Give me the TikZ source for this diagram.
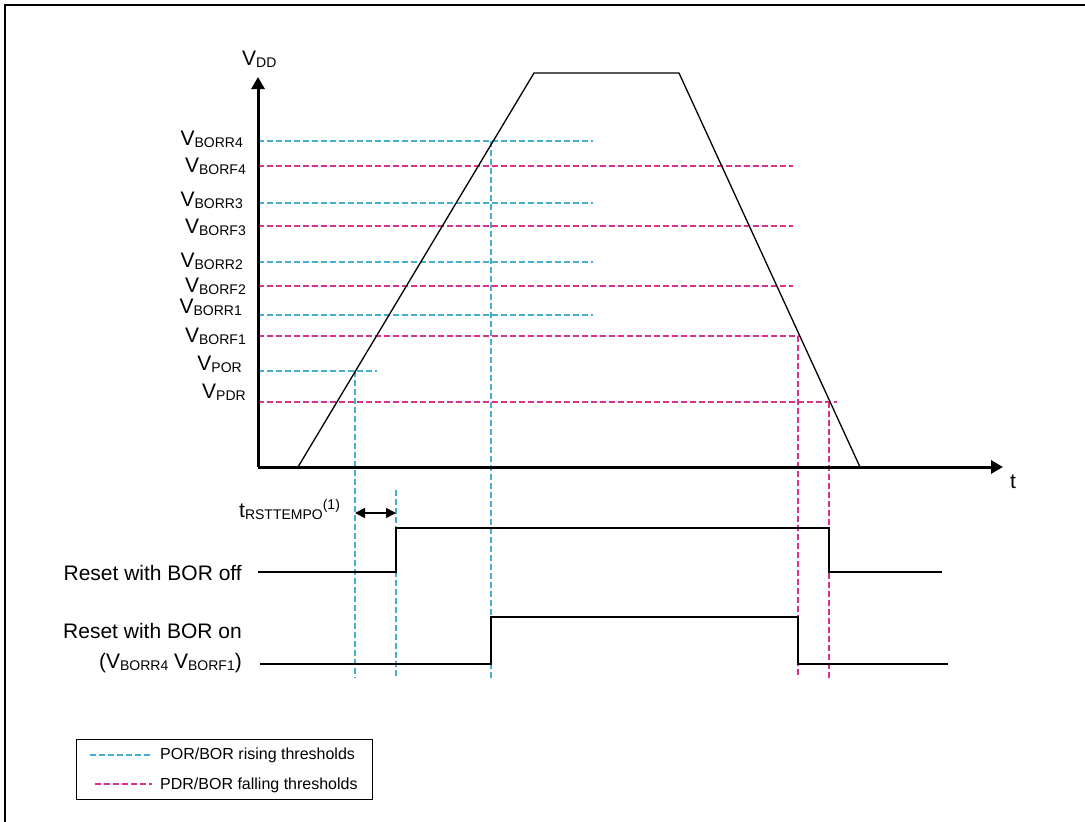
\documentclass[tikz,border=0pt]{standalone}
\usepackage{fontspec}
\setmainfont{Liberation Sans}
\usetikzlibrary{arrows.meta}
\definecolor{rise}{RGB}{70,175,205}
\definecolor{fall}{RGB}{218,50,140}
\newcommand\lbl[2]{\fontsize{21}{24}\selectfont #1\raisebox{-2.5pt}{\fontsize{14}{16}\selectfont #2}}
\begin{document}
\begin{tikzpicture}[x=1pt,y=-1pt,
  thr/.style={line width=1.1pt,dash pattern=on 6pt off 3pt},
  rthr/.style={thr,draw=rise},
  fthr/.style={thr,draw=fall},
  axis/.style={line width=3pt,-{Triangle[length=12pt,width=13pt]}},
  sig/.style={line width=1.5pt,line join=miter},
  ramp/.style={line width=1.3pt,line join=miter},
  vlab/.style={anchor=base east,inner sep=0pt},
  txt/.style={inner sep=0pt,font=\fontsize{21}{24}\selectfont},
  legtxt/.style={anchor=base west,inner sep=0pt,font=\fontsize{16}{19}\selectfont}]
\useasboundingbox (0,0) rectangle (1085,822);
% frame
\draw[line width=2pt] (5,822) -- (5,5) -- (1085,5);
% threshold lines
\coordinate (o) at (258,467);
\draw[rthr] (258,141) -- (593,141);
\draw[fthr] (258,166) -- (793,166);
\draw[rthr] (258,203) -- (593,203);
\draw[fthr] (258,226) -- (793,226);
\draw[rthr] (258,262) -- (593,262);
\draw[fthr] (258,286) -- (793,286);
\draw[rthr] (258,315) -- (593,315);
\draw[fthr] (258,336) -- (800,336);
\draw[rthr] (258,371) -- (377,371);
\draw[fthr] (258,402) -- (837,402);
% vertical markers
\draw[rthr] (355,371) -- (355,678);
\draw[rthr] (396,490) -- (396,678);
\draw[rthr] (491,141) -- (491,678);
\draw[fthr] (798,336) -- (798,678);
\draw[fthr] (829,402) -- (829,678);
% axes
\draw[axis] (o) -- (258,77);
\draw[axis] (o) -- (1003,467);
\node[anchor=base west,inner sep=0pt] (vdd) at (242,65) {\lbl{V}{DD}};
\node[anchor=base west,inner sep=0pt,font=\fontsize{21}{24}\selectfont] (t) at (1010,488) {t};
% ramp
\coordinate (r0) at (298,467);
\coordinate (r1) at (534,73);
\coordinate (r2) at (679,73);
\coordinate (r3) at (860,467);
\draw[ramp] (r0) -- (r1) -- (r2) -- (r3);
% threshold labels
\node[vlab] (l1) at (243,145) {\lbl{V}{BORR4}};
\node[vlab] (l2) at (246,172) {\lbl{V}{BORF4}};
\node[vlab] (l3) at (243,206) {\lbl{V}{BORR3}};
\node[vlab] (l4) at (246,233) {\lbl{V}{BORF3}};
\node[vlab] (l5) at (243,267) {\lbl{V}{BORR2}};
\node[vlab] (l6) at (246,292) {\lbl{V}{BORF2}};
\node[vlab] (l7) at (242,313) {\lbl{V}{BORR1}};
\node[vlab] (l8) at (246,342) {\lbl{V}{BORF1}};
\node[vlab] (l9) at (242,370) {\lbl{V}{POR}};
\node[vlab] (l10) at (246,398) {\lbl{V}{PDR}};
% tRSTTEMPO
\node[anchor=base west,inner sep=0pt] (tr) at (239,517) {\lbl{t}{RSTTEMPO}\raisebox{8pt}{\fontsize{14}{16}\selectfont (1)}};
\coordinate (a0) at (355,513);
\coordinate (a1) at (396,513);
\draw[line width=1.8pt,{Triangle[length=10pt,width=10pt]}-{Triangle[length=10pt,width=10pt]}] (a0) -- (a1);
% signals
\node[txt,anchor=base east] (s1) at (242,580) {Reset with BOR off};
\node[txt,anchor=base east] (s2) at (242,638) {Reset with BOR on};
\node[txt,anchor=base east] (s3) at (242,668) {(\lbl{V}{BORR4} \lbl{V}{BORF1})};
\draw[sig] (258,572) -- (396,572) -- (396,528) -- (829,528) -- (829,572) -- (942,572);
\draw[sig] (260,664) -- (491,664) -- (491,617) -- (798,617) -- (798,664) -- (948,664);
% legend
\node[draw,line width=1pt,minimum width=296pt,minimum height=60pt,anchor=north west,inner sep=0pt] (leg) at (76,739) {};
\draw[rthr] (90,755) -- (152,755);
\draw[fthr] (95,784) -- (152,784);
\node[legtxt] (lg1) at (160,759) {POR/BOR rising thresholds};
\node[legtxt] (lg2) at (160,789) {PDR/BOR falling thresholds};
\end{tikzpicture}
\end{document}
